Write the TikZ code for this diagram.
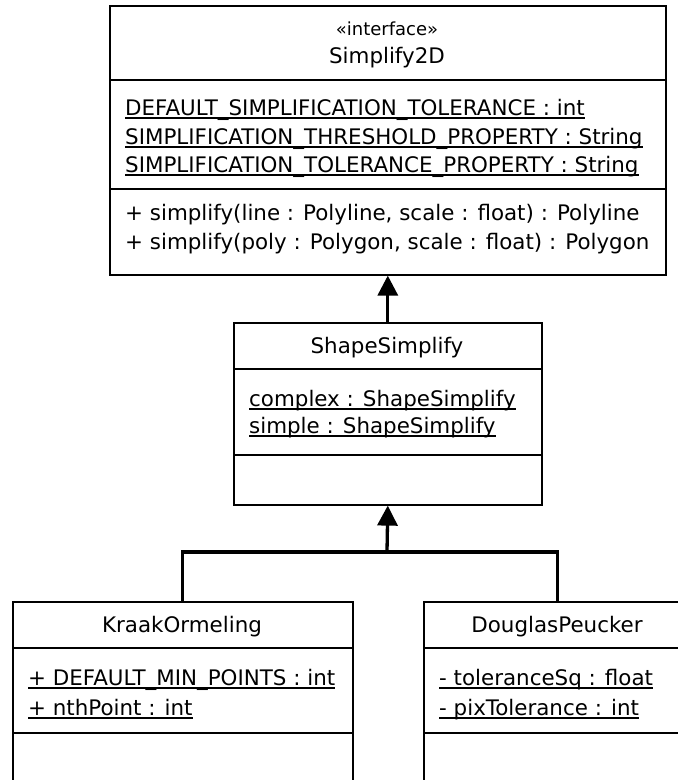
\documentclass[tikz,border=0pt]{standalone}
\usepackage{fontspec}
\setmainfont{DejaVu Sans}
\usetikzlibrary{arrows.meta}
\begin{document}
\begin{tikzpicture}[x=1pt,y=-1pt,
  classbox/.style={draw, line width=1.6pt, inner sep=0pt, anchor=north west},
  compsep/.style={line width=1.6pt},
  txt/.style={inner sep=0pt, font=\fontsize{21.4}{26}\selectfont},
  stereo/.style={inner sep=0pt, font=\fontsize{18}{21}\selectfont},
  uline/.style={line width=1.6pt},
  assoc/.style={line width=3.3pt},
  gen/.style={line width=3.3pt, -{Triangle[length=20pt,width=20pt]}}]
\clip (0,0) rectangle (678,780);
\fill[white] (0,0) rectangle (678,780);

% class boxes
\node[classbox, minimum width=556pt, minimum height=269pt] (s2d) at (109,5) {};
\node[classbox, minimum width=308pt, minimum height=182pt] (shape) at (233,322) {};
\node[classbox, minimum width=340pt, minimum height=230pt] (kraak) at (12,601) {};
\node[classbox, minimum width=268pt, minimum height=230pt] (dp) at (423,601) {};

% compartment separators
\draw[compsep] ([yshift=-75pt]s2d.north west) -- ([yshift=-75pt]s2d.north east);
\draw[compsep] ([yshift=-184pt]s2d.north west) -- ([yshift=-184pt]s2d.north east);
\draw[compsep] ([yshift=-47pt]shape.north west) -- ([yshift=-47pt]shape.north east);
\draw[compsep] ([yshift=-133pt]shape.north west) -- ([yshift=-133pt]shape.north east);
\draw[compsep] ([yshift=-47pt]kraak.north west) -- ([yshift=-47pt]kraak.north east);
\draw[compsep] ([yshift=-132pt]kraak.north west) -- ([yshift=-132pt]kraak.north east);
\draw[compsep] ([yshift=-47pt]dp.north west) -- ([yshift=-47pt]dp.north east);
\draw[compsep] ([yshift=-132pt]dp.north west) -- ([yshift=-132pt]dp.north east);

% Simplify2D
\node[stereo, anchor=base] (s2dst) at (387,35) {«interface»};
\node[txt, anchor=base] (s2dname) at (387,63) {Simplify2D};
\node[txt, anchor=base west] (s2da1) at (125,115) {DEFAULT\_SIMPLIFICATION\_TOLERANCE : int};
\node[txt, anchor=base west] (s2da2) at (125,144) {SIMPLIFICATION\_THRESHOLD\_PROPERTY : String};
\node[txt, anchor=base west] (s2da3) at (125,172) {SIMPLIFICATION\_TOLERANCE\_PROPERTY : String};
\node[txt, anchor=base west] (s2dm1) at (125,220) {+ simplify(line : Polyline, scale : float) : Polyline};
\node[txt, anchor=base west] (s2dm2) at (125,249) {+ simplify(poly : Polygon, scale : float) : Polygon};

% ShapeSimplify
\node[txt, anchor=base] (shname) at (387,353) {ShapeSimplify};
\node[txt, anchor=base west] (sha1) at (249,406) {complex : ShapeSimplify};
\node[txt, anchor=base west] (sha2) at (249,433) {simple : ShapeSimplify};

% KraakOrmeling
\node[txt, anchor=base] (krname) at (182,632) {KraakOrmeling};
\node[txt, anchor=base west] (kra1) at (28,685) {+ DEFAULT\_MIN\_POINTS : int};
\node[txt, anchor=base west] (kra2) at (28,715) {+ nthPoint : int};

% DouglasPeucker
\node[txt, anchor=base] (dpname) at (557,632) {DouglasPeucker};
\node[txt, anchor=base west] (dpa1) at (439,685) {- toleranceSq : float};
\node[txt, anchor=base west] (dpa2) at (439,715) {- pixTolerance : int};

% static members are underlined
\foreach \n in {s2da1,s2da2,s2da3,sha1,sha2,kra1,kra2,dpa1,dpa2}
  \draw[uline] ([yshift=-3pt]\n.base west) -- ([yshift=-3pt]\n.base east);

% generalisation
\draw[gen] (shape.north) -- (s2d.south);
\coordinate (join) at (387,552);
\draw[assoc] (kraak.north) |- (join) -| (dp.north);
\draw[gen] (join) -- (shape.south);
\end{tikzpicture}
\end{document}
